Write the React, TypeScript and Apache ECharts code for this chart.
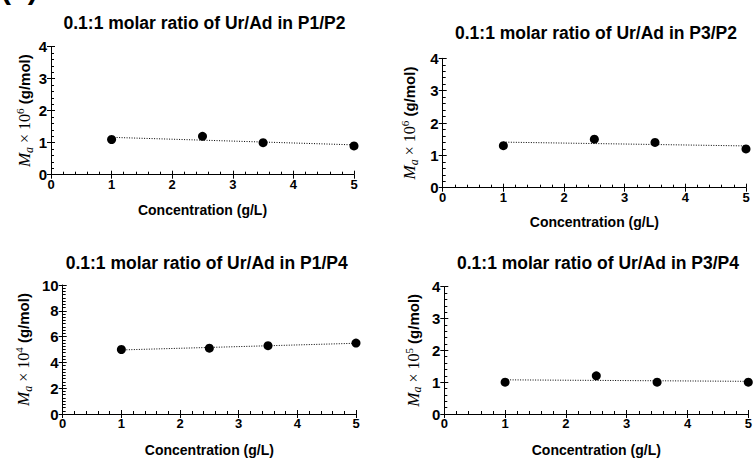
import React, { useEffect, useRef } from "react";
import * as echarts from "echarts";

// ---- data ----
const concentration = [1, 2.5, 3.5, 5];
const p1p2 = [1.1, 1.2, 1.0, 0.9];
const p3p2 = [1.3, 1.5, 1.4, 1.2];
const p1p4 = [5.0, 5.1, 5.3, 5.5];
const p3p4 = [1.0, 1.2, 1.0, 1.0];
const titles = [
  "0.1:1 molar ratio of Ur/Ad in P1/P2",
  "0.1:1 molar ratio of Ur/Ad in P3/P2",
  "0.1:1 molar ratio of Ur/Ad in P1/P4",
  "0.1:1 molar ratio of Ur/Ad in P3/P4",
];
const exponents = ["6", "6", "4", "5"];
const yMaxes = [4, 4, 10, 4];
const yIntervals = [1, 1, 2, 1];
const yMinorSplits = [5, 5, 8, 5];
const xMin = 0;
const xMax = 5;
const xInterval = 1;
const xName = "Concentration (g/L)";
const seriesValues = [p1p2, p3p2, p1p4, p3p4];

// ---- layout ----
const layout = [
  { left: 51, top: 46.7, width: 303, height: 128, tx: 204.5, ty: 23, yGap: 7, xGap: 28 },
  { left: 442.7, top: 58.3, width: 303.3, height: 129.4, tx: 596, ty: 33, yGap: 23, xGap: 27 },
  { left: 62.7, top: 285, width: 293.3, height: 129, tx: 206.7, ty: 263, yGap: 29, xGap: 29 },
  { left: 444.3, top: 286.7, width: 304, height: 127.3, tx: 598, ty: 263, yGap: 21, xGap: 29 },
];

const FONT = "Arial, 'Liberation Sans', sans-serif";
const SERIF = "'Times New Roman', 'Liberation Serif', serif";

function linearFit(xs: number[], ys: number[]) {
  const n = xs.length;
  const mx = xs.reduce((a, b) => a + b, 0) / n;
  const my = ys.reduce((a, b) => a + b, 0) / n;
  let sxy = 0;
  let sxx = 0;
  for (let i = 0; i < n; i++) {
    sxy += (xs[i] - mx) * (ys[i] - my);
    sxx += (xs[i] - mx) * (xs[i] - mx);
  }
  const slope = sxy / sxx;
  const icpt = my - slope * mx;
  const x0 = Math.min(...xs);
  const x1 = Math.max(...xs);
  return [
    [x0, icpt + slope * x0],
    [x1, icpt + slope * x1],
  ];
}

export default function App() {
  const ref = useRef<HTMLDivElement>(null);
  useEffect(() => {
    if (!ref.current) return;
    const chart = echarts.init(ref.current, undefined, { renderer: "svg" });
    const grid: any[] = [];
    const xAxis: any[] = [];
    const yAxis: any[] = [];
    const series: any[] = [];
    const graphic: any[] = [];

    layout.forEach((L, i) => {
      grid.push({ left: L.left, top: L.top, width: L.width, height: L.height, containLabel: false });
      const commonX = {
        type: "value",
        gridIndex: i,
        min: xMin,
        max: xMax,
        interval: xInterval,
        splitLine: { show: false },
      };
      xAxis.push({
        ...commonX,
        position: "bottom",
        name: xName,
        nameLocation: "middle",
        nameGap: L.xGap,
        nameTextStyle: { fontFamily: FONT, fontWeight: "bold", fontSize: 14, color: "#000" },
        axisLine: { onZero: false, lineStyle: { color: "#000", width: 1 } },
        axisTick: { inside: true, length: 4, lineStyle: { color: "#000" } },
        minorTick: { show: true, splitNumber: 5, length: 3, lineStyle: { color: "#000" } },
        axisLabel: { fontFamily: FONT, fontWeight: "bold", fontSize: 13, color: "#000", margin: 3 },
      });
      xAxis.push({
        ...commonX,
        position: "bottom",
        axisLine: { show: false, onZero: false },
        axisTick: { inside: false, length: 4, lineStyle: { color: "#000" } },
        axisLabel: { show: false },
      });
      const commonY = {
        type: "value",
        gridIndex: i,
        min: 0,
        max: yMaxes[i],
        interval: yIntervals[i],
        splitLine: { show: false },
      };
      yAxis.push({
        ...commonY,
        position: "left",
        name:
          "{m|M}{s|a}{n| × 10}{p|" + exponents[i] + "}{u| (g/mol)}",
        nameLocation: "middle",
        nameRotate: 90,
        nameGap: L.yGap,
        nameTextStyle: {
          color: "#000",
          rich: {
            m: { fontFamily: SERIF, fontStyle: "italic", fontSize: 17, lineHeight: 20, color: "#000", verticalAlign: "middle" },
            s: { fontFamily: SERIF, fontStyle: "italic", fontSize: 12, lineHeight: 20, color: "#000", verticalAlign: "bottom" },
            n: { fontFamily: SERIF, fontSize: 16, lineHeight: 20, color: "#000", verticalAlign: "middle" },
            p: { fontFamily: SERIF, fontSize: 11, lineHeight: 20, color: "#000", verticalAlign: "top" },
            u: { fontFamily: FONT, fontWeight: "bold", fontSize: 15, lineHeight: 20, color: "#000", verticalAlign: "middle" },
          },
        },
        axisLine: { onZero: false, lineStyle: { color: "#000", width: 1 } },
        axisTick: { inside: true, length: 4, lineStyle: { color: "#000" } },
        minorTick: { show: true, splitNumber: yMinorSplits[i], length: 3, lineStyle: { color: "#000" } },
        axisLabel: { fontFamily: FONT, fontWeight: "bold", fontSize: 15, color: "#000", margin: 4 },
      });
      yAxis.push({
        ...commonY,
        position: "left",
        axisLine: { show: false, onZero: false },
        axisTick: { inside: false, length: 4, lineStyle: { color: "#000" } },
        axisLabel: { show: false },
      });

      const pts = concentration.map((c, k) => [c, seriesValues[i][k]]);
      series.push({
        type: "line",
        xAxisIndex: i * 2,
        yAxisIndex: i * 2,
        data: linearFit(concentration, seriesValues[i]),
        symbol: "none",
        lineStyle: { color: "#000", width: 1, type: [1, 1.5] },
        z: 2,
        silent: true,
      });
      series.push({
        type: "scatter",
        xAxisIndex: i * 2,
        yAxisIndex: i * 2,
        data: pts,
        symbol: "circle",
        symbolSize: 9,
        itemStyle: { color: "#000", opacity: 1 },
        z: 3,
      });

      graphic.push({
        type: "text",
        x: L.tx,
        y: L.ty,
        style: {
          text: titles[i],
          fontFamily: FONT,
          fontWeight: "bold",
          fontSize: 17.5,
          fill: "#000",
          align: "center",
          verticalAlign: "middle",
        },
      });
    });

    graphic.push({
      type: "text",
      x: 1,
      y: 3,
      style: {
        text: "(c)",
        fontFamily: FONT,
        fontWeight: "bold",
        fontSize: 30,
        fill: "#000",
        align: "left",
        verticalAlign: "bottom",
      },
    });

    chart.setOption({
      animation: false,
      backgroundColor: "#fff",
      grid,
      xAxis,
      yAxis,
      series,
      graphic,
    });
    return () => chart.dispose();
  }, []);
  return (
    <div
      ref={ref}
      style={{ position: "fixed", left: 0, top: 0, width: 756, height: 461 }}
    />
  );
}
